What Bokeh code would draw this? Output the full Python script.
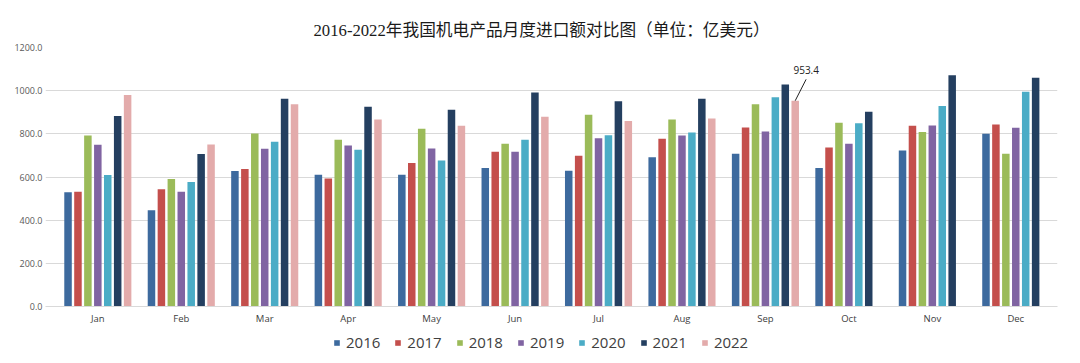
from bokeh.plotting import figure
from bokeh.layouts import column
from bokeh.models import (ColumnDataSource, Legend, LegendItem, FixedTicker,
                          NumeralTickFormatter, Range1d)
from bokeh.transform import dodge
from bokeh.core.properties import value
from bokeh.embed import file_html
from bokeh.resources import INLINE

title_text = "2016-2022年我国机电产品月度进口额对比图（单位：亿美元）"
months = ["Jan", "Feb", "Mar", "Apr", "May", "Jun",
          "Jul", "Aug", "Sep", "Oct", "Nov", "Dec"]
years = ["2016", "2017", "2018", "2019", "2020", "2021", "2022"]
y_ticks = [0, 200, 400, 600, 800, 1000, 1200]

v2016 = [529, 446, 628, 611, 611, 642, 629, 692, 708, 642, 723, 800]
v2017 = [532, 543, 637, 593, 665, 717, 699, 777, 829, 737, 837, 843]
v2018 = [792, 591, 802, 773, 823, 754, 888, 866, 937, 851, 809, 708]
v2019 = [749, 532, 731, 746, 732, 717, 780, 792, 811, 754, 839, 828]
v2020 = [609, 577, 763, 726, 676, 773, 794, 806, 969, 849, 929, 995]
v2021 = [883, 706, 963, 925, 912, 992, 951, 962, 1029, 902, 1072, 1060]
v2022 = [980, 751, 937, 866, 837, 879, 860, 871, 953.4]

labelled_month = "Sep"   # the bar carrying a data label (2022)

colors = ["#3D6A9E", "#C44F4C", "#9BBB59", "#8064A2", "#4BACC6", "#243F60", "#E3ABAB"]
series = [v2016, v2017, v2018, v2019, v2020, v2021, v2022]

p = figure(width=1080, height=330,
           x_range=Range1d(-0.627, 11.50), y_range=Range1d(0, 1200),
           output_backend="svg", toolbar_location=None,
           min_border_left=45, min_border_right=23,
           min_border_top=47, min_border_bottom=24,
           title=title_text)

p.title.align = "left"
p.title.offset = 268
p.title.text_font = "Liberation Serif, Noto Sans CJK SC"
p.title.text_font_size = "16.7px"
p.title.text_font_style = "normal"
p.title.text_color = "#1a1a1a"
p.title.standoff = 16

p.outline_line_color = None
p.xgrid.grid_line_color = None
p.ygrid.grid_line_color = "#d9d9d9"
p.ygrid.grid_line_width = 1

p.yaxis.ticker = FixedTicker(ticks=y_ticks)
p.yaxis.formatter = NumeralTickFormatter(format="0.0")
p.yaxis.axis_line_color = None
p.yaxis.major_tick_line_color = None
p.yaxis.minor_tick_line_color = None
p.yaxis.major_tick_out = 0
p.yaxis.major_tick_in = 0
p.yaxis.major_label_standoff = 3
p.yaxis.major_label_text_font = "Open Sans"
p.yaxis.major_label_text_font_size = "9px"
p.yaxis.major_label_text_color = "#595959"

p.xaxis.ticker = FixedTicker(ticks=list(range(len(months))))
p.xaxis.major_label_overrides = {i: m for i, m in enumerate(months)}
p.xaxis.axis_line_color = "#d9d9d9"
p.xaxis.major_tick_line_color = None
p.xaxis.minor_tick_line_color = None
p.xaxis.major_tick_out = 0
p.xaxis.major_tick_in = 0
p.xaxis.major_label_standoff = 5
p.xaxis.major_label_text_font = "Open Sans"
p.xaxis.major_label_text_font_size = "9.5px"
p.xaxis.major_label_text_color = "#404040"

slot = 0.119
bar_w = 0.09
sources = []
for k, (yr, vals, col) in enumerate(zip(years, series, colors)):
    src = ColumnDataSource(dict(idx=list(range(len(vals))), val=vals,
                                month=months[:len(vals)]))
    sources.append(src)
    p.vbar(x=dodge("idx", (k - 3) * slot), top="val", width=bar_w,
           source=src, fill_color=col, line_color=None)

# data label on 2022 Sep
mi = months.index(labelled_month)
lab_src = ColumnDataSource(dict(idx=[mi], val=[v2022[mi]],
                                txt=["%.1f" % v2022[mi]]))
off = (len(years) - 1 - 3) * slot
p.ray(x=dodge("idx", off), y="val", length=24, angle=63, angle_units="deg",
      length_units="screen", source=lab_src, line_color="#222222", line_width=1)
p.text(x=dodge("idx", off), y="val", text="txt", source=lab_src,
       x_offset=11, y_offset=-31, text_align="center", text_baseline="middle",
       text_font=value("Open Sans"), text_font_size="10px", text_color="#222222")

# legend strip below the chart (its renderers are hidden, only the key shows)
pl = figure(width=1080, height=33, x_range=Range1d(0, 1), y_range=Range1d(0, 1),
            output_backend="svg", toolbar_location=None,
            x_axis_location=None, y_axis_location=None, min_border=0)
pl.outline_line_color = None
pl.xgrid.visible = False
pl.ygrid.visible = False
items = []
for yr, col, src in zip(years, colors, sources):
    r = pl.vbar(x="idx", top="val", width=bar_w, source=src,
                fill_color=col, line_color=None, visible=False)
    items.append(LegendItem(label=yr, renderers=[r]))
legend = Legend(items=items, orientation="horizontal", location=(288, 11),
                label_text_font="Open Sans", label_text_font_size="15px",
                label_text_color="#404040", glyph_width=7, glyph_height=7,
                label_standoff=6, spacing=14, padding=2, margin=0,
                label_height=18, border_line_color=None,
                background_fill_alpha=0, inactive_fill_alpha=0)
pl.add_layout(legend, "center")

open("out.html", "w").write(file_html(column(p, pl), INLINE))
